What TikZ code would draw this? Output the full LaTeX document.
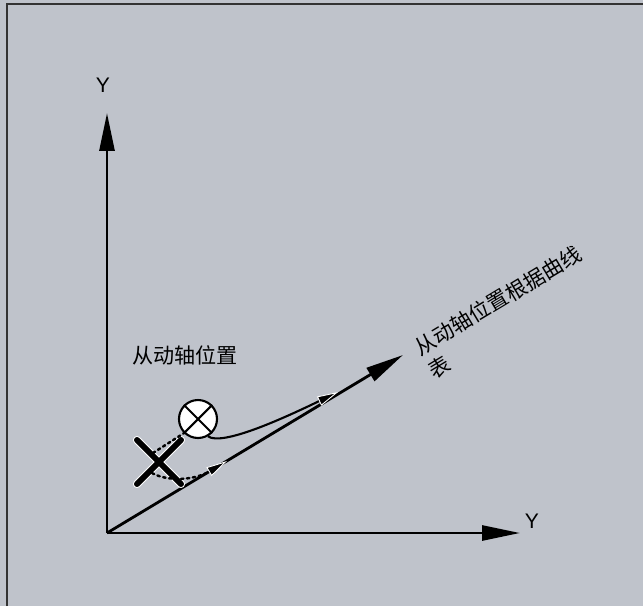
\documentclass[tikz,border=0pt]{standalone}
\usepackage{fontspec}
\setmainfont{Liberation Sans}
\newfontfamily\cjk{Noto Sans CJK SC}
\usetikzlibrary{arrows.meta,positioning,calc}
\definecolor{panelgray}{HTML}{BFC3CB}

\begin{document}
\begin{tikzpicture}[x=0.02cm, y=-0.02cm,
    axis/.style={line width=1.6pt, -{Triangle[length=0.76cm, width=0.3cm]}},
    pathtip/.style={-{Triangle[length=0.42cm, width=0.2cm, fill=black, color=white, line width=0.5pt]}},
    label/.style={font=\fontsize{12}{14}\selectfont, inner sep=0pt},
    cjklabel/.style={font=\cjk\fontsize{12}{15}\selectfont, inner sep=0pt}]

% panel
\fill[panelgray] (0,0) rectangle (643,606);
\useasboundingbox (0,0) rectangle (643,606);
\draw[line width=1.2pt, black!80] (7,606) -- (7,4) -- (643,4);

% axes
\coordinate (orig) at (107,533);
\coordinate (ytip) at (107,113);
\coordinate (xtip) at (520,533);
\coordinate (dtip) at (403,355);
\draw[axis] (orig) -- (ytip);
\draw[axis] (orig) -- (xtip);
\draw[axis] (orig) -- (dtip);

\node[label] (ylab) at (103,85) {Y};
\node[label] (xlab) at (532,521) {Y};

% texts
\node[cjklabel] (slave) at (185,355) {从动轴位置};
\node[cjklabel, rotate=31, anchor=north west, align=left] (curve)
  at (411,341) {从动轴位置根据曲线\\表};

% set point and actual point
\node[circle, draw, fill=white, line width=1.2pt, minimum size=0.76cm,
      inner sep=0pt] (setp) at (198,419) {};
\draw[line width=1.2pt] (setp.north west) -- (setp.south east);
\draw[line width=1.2pt] (setp.north east) -- (setp.south west);

\coordinate (act) at (159,462);
\foreach \w/\c in {4.6pt/white, 3.4pt/black}
  \draw[line width=\w, \c, line cap=round]
    ($(act)+(-22,-22)$) -- ($(act)+(22,22)$)
    ($(act)+(22,-22)$) -- ($(act)+(-22,22)$);

% paths onto the line
\coordinate (s1) at (227,461);
\coordinate (s2) at (338,392);
\draw[line width=1.4pt, dotted, line cap=round] (153,453) -- (setp.225);
\draw[line width=1.4pt, dotted, line cap=round, pathtip]
  (152,473) .. controls (168,482) and (195,480) .. (s1);
\draw[line width=1.2pt, pathtip]
  (setp.-60) .. controls (222,446) and (280,420) .. (s2);
\end{tikzpicture}
\end{document}
